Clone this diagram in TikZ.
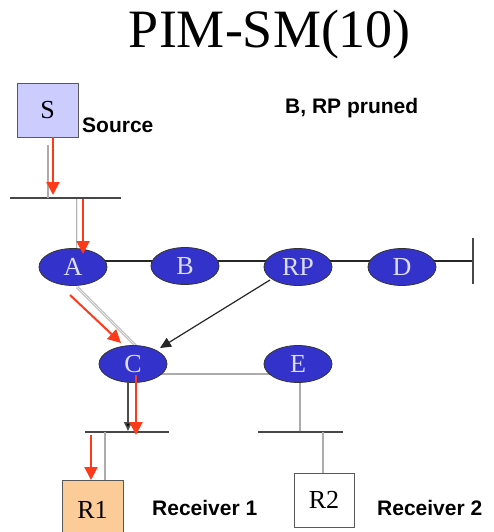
\documentclass[tikz,border=0pt]{standalone}
\usepackage{fontspec}
\setmainfont{Liberation Serif}
\newfontfamily\labelfont{Liberation Sans}
\usetikzlibrary{arrows.meta,shapes.geometric,backgrounds,calc}
\definecolor{nodeblue}{HTML}{3333CC}
\definecolor{nodetext}{HTML}{DCDCFF}
\definecolor{srcfill}{HTML}{CCCCFF}
\definecolor{rcvfill}{HTML}{FBCB98}
\definecolor{redarr}{HTML}{FF3A1A}
\begin{document}
\begin{tikzpicture}[x=1pt,y=-1pt,
  router/.style={ellipse, draw=black!80, line width=0.8pt, fill=nodeblue, text=nodetext,
    minimum width=68pt, minimum height=37pt, inner sep=0pt, font=\fontsize{26}{26}\selectfont},
  hostbox/.style={rectangle, draw=black!65, line width=1pt, minimum width=61pt, minimum height=53pt,
    inner sep=0pt, font=\fontsize{26}{26}\selectfont},
  bus/.style={draw=black!72, line width=2.6pt},
  link/.style={draw=gray!65, line width=1.8pt},
  duallink/.style={draw=gray!60, line width=0.9pt, double=gray!15, double distance=0.8pt},
  mainlink/.style={draw=black!85, line width=1.4pt},
  redarrow/.style={draw=redarr, line width=2pt, -{Triangle[length=13pt,width=13pt]}},
  blackarrow/.style={draw=black!85, line width=1.2pt, -{Triangle[length=11pt,width=10pt]}},
  lbl/.style={font=\labelfont\bfseries\fontsize{21}{21}\selectfont, anchor=west, inner sep=0pt}]
\useasboundingbox (0,0) rectangle (494,532);

% title
\node[anchor=base, inner sep=0pt, font=\fontsize{54}{54}\selectfont] (title) at (270,48) {PIM-SM(10)};

% hosts
\node[hostbox, fill=srcfill] (S) at (47.5,110.5) {S};
\node[hostbox, fill=rcvfill, minimum height=60pt] (R1) at (92.5,510) {R1};
\node[hostbox, fill=white, minimum width=60pt, minimum height=54pt] (R2) at (324,500) {R2};

% labels
\node[lbl] (srclbl) at (82,125) {Source};
\node[lbl] (pruned) at (285,108) {B, RP pruned};
\node[lbl] (r1lbl) at (152,508) {Receiver 1};
\node[lbl] (r2lbl) at (377,508) {Receiver 2};

% routers
\node[router] (A) at (73,267) {A};
\node[router] (B) at (185,266) {B};
\node[router] (RP) at (298,267) {RP};
\node[router] (D) at (402,267) {D};
\node[router] (C) at (133,364) {C};
\node[router] (E) at (298,364) {E};

% bus coordinates
\coordinate (b1l) at (10,198);
\coordinate (b1r) at (121,198);
\coordinate (b2l) at (85,432);
\coordinate (b2r) at (169,432);
\coordinate (b3l) at (258,432);
\coordinate (b3r) at (343,432);
\coordinate (endtop) at (473,238);
\coordinate (endbot) at (473,284);
\coordinate (endmid) at (473,261);

% attachment points
\coordinate (sg1) at (48,145);   \coordinate (sg2) at (48,198);
\coordinate (ag1) at (77,198);   \coordinate (ag2) at (77,250);
\coordinate (r1g1) at (105,432); \coordinate (r1g2) at (105,480);
\coordinate (eg1) at (300,382);  \coordinate (eg2) at (300,432);
\coordinate (r2g1) at (323,432); \coordinate (r2g2) at (323,473);
\coordinate (cb1) at (128,382);  \coordinate (cb2) at (128,431);
\coordinate (rs1) at (53,137);   \coordinate (rs2) at (53,195);
\coordinate (ra1) at (83,199);   \coordinate (ra2) at (83,254);
\coordinate (rc1) at (136,375);  \coordinate (rc2) at (136,435);
\coordinate (rr1) at (91,435);   \coordinate (rr2) at (91,480);

\begin{scope}[on background layer]
  \draw[mainlink] ($(A.center)+(0,-6)$) -- ($(B.center)+(0,-5)$) -- ($(RP.center)+(0,-6)$) -- ($(D.center)+(0,-6)$) -- (endmid);
  \draw[link, line width=1.5pt] ($(C.center)+(0,10)$) -- ($(E.center)+(0,10)$);
  \draw[duallink] ($(A.center)+(4,20)$) -- ($(C.center)+(3,-18)$);
  \draw[duallink] (ag1) -- (ag2);
  \draw[link] (eg1) -- (eg2);
  \draw[draw=black!70, line width=1.6pt] (cb1) -- ($(cb2)+(0,-8)$);
\end{scope}

% buses
\draw[bus] (b1l) -- (b1r);
\draw[bus] (b2l) -- (b2r);
\draw[bus] (b3l) -- (b3r);
\draw[draw=black!72, line width=2.2pt] (endtop) -- (endbot);

% grey links
\draw[link] (sg1) -- (sg2);
\draw[link] (r1g1) -- (r1g2);
\draw[link] (r2g1) -- (r2g2);

% black arrows
\draw[blackarrow] ($(RP.center)+(-28,13)$) -- ($(C.center)+(27,-16)$);
\draw[draw=black!70, line width=1.6pt, -{Triangle[length=9pt,width=8pt,fill=black]}] (cb1) -- (cb2);

% red arrows
\draw[redarrow] (rs1) -- (rs2);
\draw[redarrow] (ra1) -- (ra2);
\draw[redarrow] ($(A.center)+(-3,28)$) -- ($(C.center)+(-12,-21)$);
\draw[redarrow] (rc1) -- (rc2);
\draw[redarrow] (rr1) -- (rr2);
\end{tikzpicture}
\end{document}
